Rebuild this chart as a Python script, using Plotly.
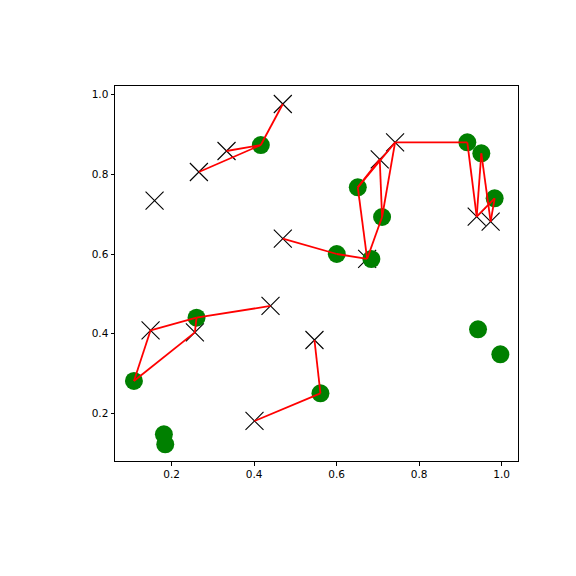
import plotly.graph_objects as go

# Green circle points
green_x = [0.4163, 0.9168, 0.9507, 0.9830, 0.6513, 0.7102, 0.6004, 0.6843,
           0.2605, 0.1088, 0.5608, 0.9427, 0.9968, 0.1814, 0.1847]
green_y = [0.8736, 0.8803, 0.8527, 0.7397, 0.7674, 0.6929, 0.6000, 0.5874,
           0.4402, 0.2812, 0.2502, 0.4109, 0.3481, 0.1473, 0.1222]

# Black X points
cross_x = [0.4696, 0.3332, 0.2662, 0.1588, 0.7417, 0.7045, 0.4696, 0.6740,
           0.9395, 0.9733, 0.4398, 0.1491, 0.2565, 0.5463, 0.4010]
cross_y = [0.9766, 0.8586, 0.8059, 0.7339, 0.8803, 0.8377, 0.6385, 0.5880,
           0.6937, 0.6812, 0.4695, 0.4084, 0.4033, 0.3841, 0.1808]

# Red links: (cross index, green index), 0-based
links = [(0, 0), (1, 0), (2, 0),
         (6, 6), (7, 6), (7, 4), (7, 5), (5, 4), (5, 5), (4, 4), (4, 5),
         (4, 1), (8, 1), (8, 2), (9, 2), (9, 3), (8, 3),
         (10, 8), (11, 8), (11, 9), (12, 9), (12, 8),
         (14, 10), (13, 10)]

x_ticks = [0.2, 0.4, 0.6, 0.8, 1.0]
y_ticks = [0.2, 0.4, 0.6, 0.8, 1.0]

lx, ly = [], []
for ci, gi in links:
    lx += [cross_x[ci], green_x[gi], None]
    ly += [cross_y[ci], green_y[gi], None]

fig = go.Figure()
fig.add_trace(go.Scatter(x=cross_x, y=cross_y, mode="markers",
                         marker=dict(symbol="x-thin", size=18,
                                     line=dict(color="black", width=1.1)),
                         showlegend=False, hoverinfo="skip"))
fig.add_trace(go.Scatter(x=green_x, y=green_y, mode="markers",
                         marker=dict(symbol="circle", size=18, color="#008000",
                                     line=dict(width=0)),
                         showlegend=False, hoverinfo="skip"))
fig.add_trace(go.Scatter(x=lx, y=ly, mode="lines",
                         line=dict(color="red", width=1.8),
                         showlegend=False, hoverinfo="skip"))

axis_common = dict(showgrid=False, zeroline=False, showline=True, linecolor="black",
                   linewidth=1, mirror=True, ticks="outside", ticklen=3.5,
                   tickwidth=1, tickcolor="black",
                   tickfont=dict(family="DejaVu Sans", size=10.5, color="black"))
fig.update_xaxes(range=[0.0629, 1.0396], tickvals=x_ticks,
                 ticktext=[f"{v:.1f}" for v in x_ticks], **axis_common)
fig.update_yaxes(range=[0.0803, 1.0218], tickvals=y_ticks,
                 ticktext=[f"{v:.1f}" for v in y_ticks], **axis_common)
fig.update_layout(width=576, height=576, plot_bgcolor="white", paper_bgcolor="white",
                  margin=dict(l=107, r=66, t=78, b=123))
fig.write_html("out.html")
